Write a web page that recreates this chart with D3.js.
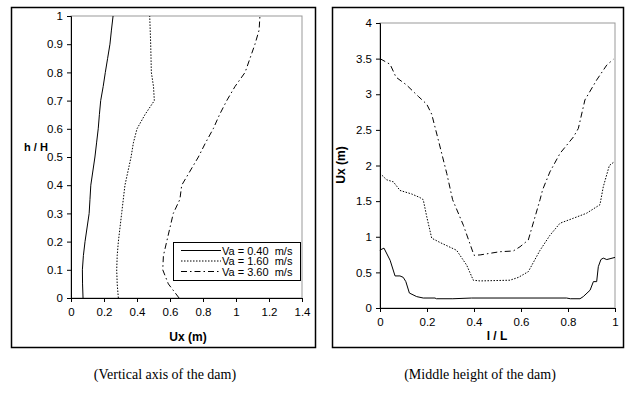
<!DOCTYPE html>
<html>
<head>
<meta charset="utf-8">
<script src="https://cdn.jsdelivr.net/npm/d3@7"></script>
<style>
  body { margin: 0; background: #fff; }
  svg text { font-family: "Liberation Sans", Arial, sans-serif; }
</style>
</head>
<body>
<div id="chart"></div>
<script>
// data
// left panel: h/H vs Ux
var hLevels = [0, 0.05, 0.1, 0.15, 0.2, 0.3, 0.35, 0.4, 0.5, 0.55, 0.6, 0.65, 0.7, 0.75, 0.8, 0.85, 0.9, 0.95, 1];
var uxVa040 = [0.073, 0.07, 0.069, 0.075, 0.085, 0.11, 0.115, 0.12, 0.145, 0.155, 0.165, 0.172, 0.18, 0.195, 0.208, 0.222, 0.236, 0.245, 0.255];
var uxVa160 = [0.287, 0.28, 0.277, 0.28, 0.287, 0.307, 0.317, 0.327, 0.364, 0.378, 0.40, 0.448, 0.505, 0.50, 0.487, 0.485, 0.483, 0.48, 0.477];
var uxVa360 = [0.655, 0.59, 0.556, 0.56, 0.58, 0.62, 0.66, 0.671, 0.772, 0.815, 0.862, 0.9, 0.944, 0.994, 1.055, 1.085, 1.115, 1.14, 1.145];

// right panel: Ux vs l/L
var lL040 = [0, 0.004, 0.017, 0.043, 0.064, 0.085, 0.099, 0.11, 0.125, 0.156, 0.184, 0.234, 0.24, 0.31, 0.39, 0.794, 0.81, 0.851, 0.865, 0.894, 0.908, 0.922, 0.929, 0.94, 0.95, 0.965, 1];
var ux040 = [0.8, 0.82, 0.84, 0.67, 0.45, 0.45, 0.43, 0.37, 0.21, 0.16, 0.14, 0.14, 0.13, 0.13, 0.14, 0.14, 0.13, 0.13, 0.16, 0.25, 0.37, 0.37, 0.58, 0.68, 0.70, 0.68, 0.71];
var lL160 = [0, 0.028, 0.057, 0.085, 0.135, 0.17, 0.184, 0.199, 0.22, 0.255, 0.326, 0.369, 0.397, 0.426, 0.553, 0.589, 0.631, 0.681, 0.723, 0.766, 0.823, 0.879, 0.936, 0.95, 0.976, 0.996];
var ux160 = [1.89, 1.80, 1.77, 1.65, 1.60, 1.55, 1.52, 1.28, 0.98, 0.92, 0.81, 0.60, 0.39, 0.38, 0.39, 0.43, 0.51, 0.81, 1.02, 1.19, 1.26, 1.33, 1.45, 1.70, 2.0, 2.05];
var lL360 = [0, 0.043, 0.068, 0.113, 0.163, 0.199, 0.22, 0.248, 0.284, 0.309, 0.355, 0.40, 0.426, 0.51, 0.567, 0.596, 0.631, 0.681, 0.692, 0.723, 0.766, 0.823, 0.844, 0.872, 0.922, 0.965, 0.993];
var ux360 = [3.5, 3.42, 3.24, 3.13, 2.97, 2.86, 2.72, 2.36, 1.89, 1.52, 1.16, 0.74, 0.745, 0.79, 0.80, 0.86, 0.954, 1.52, 1.66, 1.91, 2.17, 2.40, 2.52, 2.92, 3.2, 3.41, 3.49];

var legendLabels = ["Va = 0.40  m/s", "Va = 1.60  m/s", "Va = 3.60  m/s"];
var dashes = [null, "1.5,1.5", "6,3,1.5,3"];

var svg = d3.select("#chart").append("svg")
  .attr("width", 630)
  .attr("height", 393);

// ---------- left panel ----------
svg.append("rect").attr("x", 11.5).attr("y", 7.5).attr("width", 304).attr("height", 340)
  .attr("fill", "none").attr("stroke", "#000").attr("stroke-width", 1.5);

var x1 = d3.scaleLinear().domain([0, 1.4]).range([71, 302]);
var y1 = d3.scaleLinear().domain([0, 1]).range([298, 16]);

svg.append("rect").attr("x", 71).attr("y", 16).attr("width", 231).attr("height", 282)
  .attr("fill", "none").attr("stroke", "#999");

svg.append("g").attr("transform", "translate(0,298)")
  .call(d3.axisBottom(x1).tickValues(d3.range(0, 1.41, 0.2)).tickFormat(d3.format("~g")).tickSizeOuter(0).tickSize(4).tickPadding(6));
svg.append("g").attr("transform", "translate(71,0)")
  .call(d3.axisLeft(y1).tickValues(d3.range(0, 1.01, 0.1)).tickFormat(d3.format("~g")).tickSizeOuter(0).tickSize(4).tickPadding(4));

var left = [uxVa040, uxVa160, uxVa360];
left.forEach(function(s, i) {
  var pts = s.map(function(v, j) { return [v, hLevels[j]]; });
  svg.append("path")
    .attr("d", d3.line().x(d => x1(d[0])).y(d => y1(d[1]))(pts))
    .attr("fill", "none").attr("stroke", "#000").attr("stroke-width", 1)
    .attr("stroke-dasharray", dashes[i]);
});

svg.append("text").attr("x", 188).attr("y", 341).attr("text-anchor", "middle")
  .style("font-size", "12px").style("font-weight", "bold").text("Ux (m)");
svg.append("text").attr("x", 36).attr("y", 151).attr("text-anchor", "middle")
  .style("font-size", "11px").style("font-weight", "bold").text("h / H");

// legend
var lg = svg.append("g");
lg.append("rect").attr("x", 173.5).attr("y", 242.5).attr("width", 127).attr("height", 38)
  .attr("fill", "#fff").attr("stroke", "#000");
legendLabels.forEach(function(t, i) {
  var yy = 250.5 + i * 10.5;
  lg.append("line").attr("x1", 181).attr("x2", 221).attr("y1", yy).attr("y2", yy)
    .attr("stroke", "#000").attr("stroke-dasharray", dashes[i]);
  lg.append("text").attr("x", 222).attr("y", yy + 4).attr("xml:space", "preserve")
    .style("white-space", "pre").style("font-size", "11px").text(t);
});

// ---------- right panel ----------
svg.append("rect").attr("x", 332.5).attr("y", 7.5).attr("width", 291).attr("height", 340)
  .attr("fill", "none").attr("stroke", "#000").attr("stroke-width", 1.5);

var x2 = d3.scaleLinear().domain([0, 1]).range([380, 615]);
var y2 = d3.scaleLinear().domain([0, 4]).range([308, 23]);

svg.append("rect").attr("x", 380).attr("y", 23).attr("width", 235).attr("height", 285)
  .attr("fill", "none").attr("stroke", "#999");

svg.append("g").attr("transform", "translate(0,308)")
  .call(d3.axisBottom(x2).tickValues(d3.range(0, 1.01, 0.2)).tickFormat(d3.format("~g")).tickSizeOuter(0).tickSize(4).tickPadding(6));
svg.append("g").attr("transform", "translate(380,0)")
  .call(d3.axisLeft(y2).tickValues(d3.range(0, 4.01, 0.5)).tickFormat(d3.format("~g")).tickSizeOuter(0).tickSize(4).tickPadding(4));

var right = [[lL040, ux040], [lL160, ux160], [lL360, ux360]];
right.forEach(function(s, i) {
  var pts = s[0].map(function(v, j) { return [v, s[1][j]]; });
  svg.append("path")
    .attr("d", d3.line().x(d => x2(d[0])).y(d => y2(d[1]))(pts))
    .attr("fill", "none").attr("stroke", "#000").attr("stroke-width", 1)
    .attr("stroke-dasharray", dashes[i]);
});

svg.append("text").attr("x", 497).attr("y", 340).attr("text-anchor", "middle")
  .style("font-size", "12px").style("font-weight", "bold").text("l / L");
svg.append("text").attr("transform", "translate(345,165) rotate(-90)").attr("text-anchor", "middle")
  .style("font-size", "12px").style("font-weight", "bold").text("Ux (m)");

svg.selectAll(".tick text").style("font-size", "11.5px").style("font-family", "Liberation Sans, Arial, sans-serif");
svg.selectAll(".domain").attr("stroke", "#000");

// captions
svg.append("text").attr("x", 165).attr("y", 379).attr("text-anchor", "middle")
  .style("font-family", "Liberation Serif, Times New Roman, serif").style("font-size", "14px")
  .text("(Vertical axis of the dam)");
svg.append("text").attr("x", 480).attr("y", 379).attr("text-anchor", "middle")
  .style("font-family", "Liberation Serif, Times New Roman, serif").style("font-size", "14px")
  .text("(Middle height of the dam)");
</script>
</body>
</html>
